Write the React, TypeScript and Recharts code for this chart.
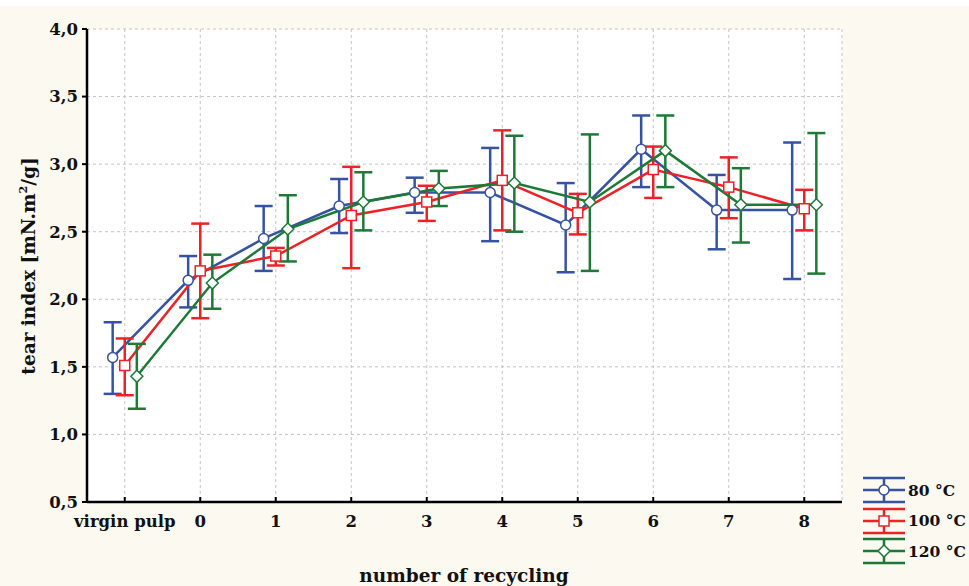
import React from 'react';
import { LineChart, Line, XAxis, YAxis, CartesianGrid, ErrorBar } from 'recharts';

const categories = ['virgin pulp', '0', '1', '2', '3', '4', '5', '6', '7', '8'];

const mean80 = [1.57, 2.14, 2.45, 2.69, 2.79, 2.79, 2.55, 3.11, 2.66, 2.66];
const low80 = [1.30, 1.94, 2.21, 2.49, 2.64, 2.43, 2.2, 2.83, 2.37, 2.15];
const high80 = [1.83, 2.32, 2.69, 2.89, 2.9, 3.12, 2.86, 3.36, 2.92, 3.16];

const mean100 = [1.51, 2.21, 2.32, 2.62, 2.72, 2.88, 2.64, 2.96, 2.83, 2.67];
const low100 = [1.29, 1.86, 2.25, 2.23, 2.58, 2.51, 2.48, 2.75, 2.6, 2.51];
const high100 = [1.71, 2.56, 2.38, 2.98, 2.84, 3.25, 2.78, 3.13, 3.05, 2.81];

const mean120 = [1.43, 2.12, 2.52, 2.72, 2.82, 2.86, 2.72, 3.1, 2.7, 2.7];
const low120 = [1.19, 1.93, 2.28, 2.51, 2.69, 2.5, 2.21, 2.83, 2.42, 2.19];
const high120 = [1.67, 2.33, 2.77, 2.94, 2.95, 3.21, 3.22, 3.36, 2.97, 3.23];

const yTicks = [0.5, 1.0, 1.5, 2.0, 2.5, 3.0, 3.5, 4.0];

const BLUE = '#3652a3';
const RED = '#ec2227';
const GREEN = '#1d7a36';
const FONT = '"DejaVu Serif", serif';

const build = (mean: number[], low: number[], high: number[], shift: number) =>
  mean.map((m, i) => ({ x: i + shift, y: m, err: [m - low[i], high[i] - m] }));

const data80 = build(mean80, low80, high80, -0.16);
const data100 = build(mean100, low100, high100, 0);
const data120 = build(mean120, low120, high120, 0.16);

const xTicks = categories.map((_, i) => i);

const CircleDot = (props: any) => {
  const { cx, cy, index } = props;
  return <circle key={`c${index}`} cx={cx} cy={cy} r={5} fill="#fff" stroke={BLUE} strokeWidth={1.5} />;
};
const SquareDot = (props: any) => {
  const { cx, cy, index } = props;
  return <rect key={`s${index}`} x={cx - 5} y={cy - 5} width={10} height={10} fill="#fff" stroke={RED} strokeWidth={1.5} />;
};
const DiamondDot = (props: any) => {
  const { cx, cy, index } = props;
  return (
    <polygon
      key={`d${index}`}
      points={`${cx},${cy - 6} ${cx + 6},${cy} ${cx},${cy + 6} ${cx - 6},${cy}`}
      fill="#fff"
      stroke={GREEN}
      strokeWidth={1.5}
    />
  );
};

const legendItems = [
  { label: '80 °C', color: BLUE, shape: 'circle' },
  { label: '100 °C', color: RED, shape: 'square' },
  { label: '120 °C', color: GREEN, shape: 'diamond' },
];

// legend drawn outside the chart so it does not eat plot height
const LegendBox = () => (
  <div style={{ position: 'absolute', left: 862, top: 475, width: 107 }}>
    {legendItems.map((it) => (
      <div key={it.label} style={{ display: 'flex', alignItems: 'center', height: 30.5 }}>
        <svg width={44} height={28} style={{ flex: 'none' }}>
          <line x1={1} x2={43} y1={2} y2={2} stroke={it.color} strokeWidth={2.5} />
          <line x1={1} x2={43} y1={14} y2={14} stroke={it.color} strokeWidth={2.5} />
          <line x1={1} x2={43} y1={26} y2={26} stroke={it.color} strokeWidth={2.5} />
          <line x1={22} x2={22} y1={2} y2={26} stroke={it.color} strokeWidth={2.5} />
          {it.shape === 'circle' && <circle cx={22} cy={14} r={5} fill="#fff" stroke={it.color} strokeWidth={1.5} />}
          {it.shape === 'square' && <rect x={17} y={9} width={10} height={10} fill="#fff" stroke={it.color} strokeWidth={1.5} />}
          {it.shape === 'diamond' && (
            <polygon points="22,8 28,14 22,20 16,14" fill="#fff" stroke={it.color} strokeWidth={1.5} />
          )}
        </svg>
        <span style={{ fontFamily: FONT, fontWeight: 'bold', fontSize: 15.5, marginLeft: 2, color: '#111', whiteSpace: 'nowrap' }}>
          {it.label}
        </span>
      </div>
    ))}
  </div>
);

const tickStyle = { fill: '#111', fontSize: 16.5, fontWeight: 'bold' as const, fontFamily: FONT };

export default function App() {
  return (
    <div style={{ position: 'absolute', left: 0, top: 0, width: 969, height: 586, background: '#fcf9f0', overflow: 'hidden' }}>
      <div style={{ position: 'absolute', left: 0, top: 0, width: 969, height: 6, background: '#fff' }} />
      <LineChart width={969} height={586} data={data100} margin={{ top: 29, right: 127, left: 0, bottom: 0 }}>
        <CartesianGrid stroke="#c4c4c4" strokeDasharray="3 3" fill="#fff" />
        <XAxis
          xAxisId={0}
          type="number"
          dataKey="x"
          domain={[-0.5, 9.5]}
          ticks={xTicks}
          interval={0}
          tickFormatter={(v: number) => categories[v]}
          height={84}
          tickSize={-5}
          tickMargin={18}
          axisLine={{ stroke: '#000', strokeWidth: 2.5 }}
          tickLine={{ stroke: '#000', strokeWidth: 2 }}
          tick={tickStyle}
        />
        <XAxis
          xAxisId="top"
          orientation="top"
          type="number"
          dataKey="x"
          domain={[-0.5, 9.5]}
          ticks={xTicks}
          interval={0}
          height={0}
          mirror
          tickSize={5}
          tickFormatter={() => ''}
          axisLine={{ stroke: '#000', strokeWidth: 2.5 }}
          tickLine={{ stroke: '#000', strokeWidth: 2 }}
        />
        <YAxis
          yAxisId={0}
          type="number"
          domain={[0.5, 4]}
          ticks={yTicks}
          interval={0}
          width={87}
          tickSize={5}
          tickMargin={4}
          tickFormatter={(v: number) => v.toFixed(1).replace('.', ',')}
          axisLine={{ stroke: '#000', strokeWidth: 2.5 }}
          tickLine={{ stroke: '#000', strokeWidth: 2 }}
          tick={tickStyle}
        />
        <YAxis
          yAxisId="right"
          orientation="right"
          type="number"
          domain={[0.5, 4]}
          ticks={yTicks}
          interval={0}
          width={0}
          mirror
          tickSize={5}
          tickFormatter={() => ''}
          axisLine={{ stroke: '#000', strokeWidth: 2.5 }}
          tickLine={{ stroke: '#000', strokeWidth: 2 }}
        />
        <Line data={data80} dataKey="y" name="80 °C" stroke={BLUE} strokeWidth={2.5} dot={<CircleDot />} isAnimationActive={false}>
          <ErrorBar dataKey="err" direction="y" width={9} stroke={BLUE} strokeWidth={2.5} isAnimationActive={false} />
        </Line>
        <Line data={data100} dataKey="y" name="100 °C" stroke={RED} strokeWidth={2.5} dot={<SquareDot />} isAnimationActive={false}>
          <ErrorBar dataKey="err" direction="y" width={9} stroke={RED} strokeWidth={2.5} isAnimationActive={false} />
        </Line>
        <Line data={data120} dataKey="y" name="120 °C" stroke={GREEN} strokeWidth={2.5} dot={<DiamondDot />} isAnimationActive={false}>
          <ErrorBar dataKey="err" direction="y" width={9} stroke={GREEN} strokeWidth={2.5} isAnimationActive={false} />
        </Line>
      </LineChart>
      <LegendBox />
      <div
        style={{
          position: 'absolute',
          left: 28,
          top: 266,
          transform: 'translate(-50%, -50%) rotate(-90deg)',
          whiteSpace: 'nowrap',
          fontFamily: FONT,
          fontWeight: 'bold',
          fontSize: 18.5,
          color: '#111',
        }}
      >
        tear index [mN.m<sup style={{ fontSize: 11 }}>2</sup>/g]
      </div>
      <div
        style={{
          position: 'absolute',
          left: 464,
          top: 575,
          transform: 'translate(-50%, -50%)',
          whiteSpace: 'nowrap',
          fontFamily: FONT,
          fontWeight: 'bold',
          fontSize: 18.5,
          color: '#111',
        }}
      >
        number of recycling
      </div>
    </div>
  );
}
